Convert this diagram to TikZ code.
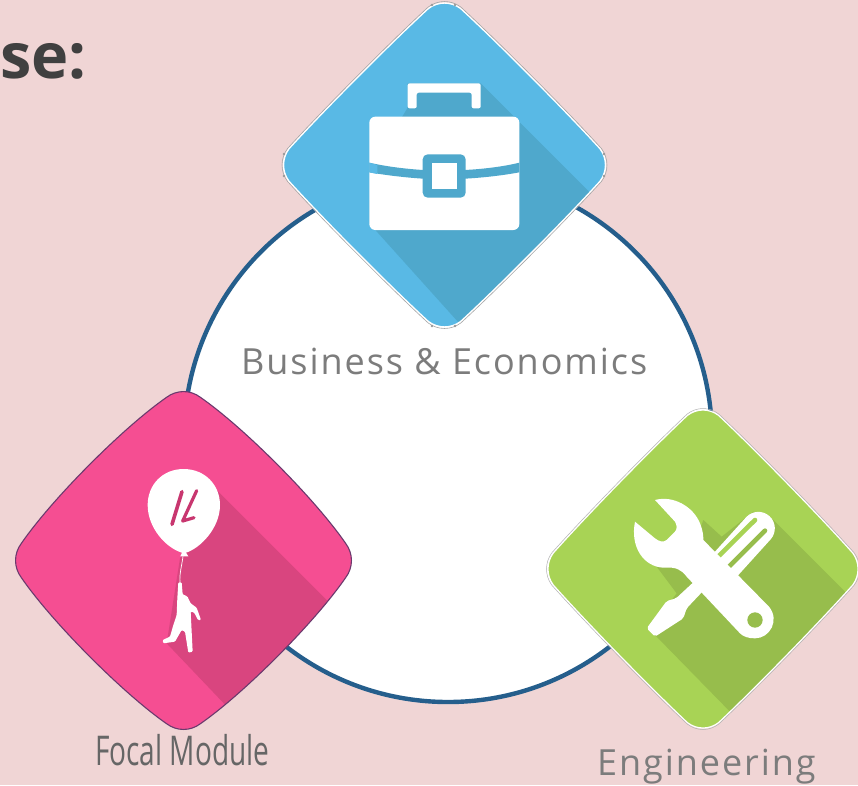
\documentclass[tikz,border=0pt]{standalone}
\usepackage{fontspec}
\setmainfont{Open Sans}
\newfontfamily\lightf[LetterSpace=5.4]{Open Sans}
\definecolor{bg}{HTML}{F0D5D5}
\definecolor{ring}{HTML}{255E8C}
\definecolor{blueA}{HTML}{59B9E5}
\definecolor{blueB}{HTML}{4FA8CC}
\definecolor{pinkA}{HTML}{F54E92}
\definecolor{pinkB}{HTML}{D9457F}
\definecolor{pinkC}{HTML}{C8366F}
\definecolor{pinkE}{HTML}{6B3A6E}
\definecolor{greenA}{HTML}{A8D355}
\definecolor{greenB}{HTML}{97BD4C}
\definecolor{txt}{HTML}{7C7C7C}
\newcommand\dpath{(-\ea,-\eb) .. controls (-\ka,-\kb) and (\ka,-\kb) .. (\ea,-\eb)
 .. controls (\ca,-\cb) and (\cb,-\ca) .. (\eb,-\ea)
 .. controls (\kb,-\ka) and (\kb,\ka) .. (\eb,\ea)
 .. controls (\cb,\ca) and (\ca,\cb) .. (\ea,\eb)
 .. controls (\ka,\kb) and (-\ka,\kb) .. (-\ea,\eb)
 .. controls (-\ca,\cb) and (-\cb,\ca) .. (-\eb,\ea)
 .. controls (-\kb,\ka) and (-\kb,-\ka) .. (-\eb,-\ea)
 .. controls (-\cb,-\ca) and (-\ca,-\cb) .. (-\ea,-\eb) -- cycle}
\newcommand\softshape{\def\ea{10}\def\eb{96}\def\ka{4}\def\kb{100.5}\def\ca{33}\def\cb{75}}
\newcommand\fullshape{\def\ea{10}\def\eb{96}\def\ka{4}\def\kb{100.5}\def\ca{36}\def\cb{78}}
\tikzset{
  bluebox/.style={shift={(444.5,165)},xscale=1.62,yscale=1.63},
  pinkbox/.style={shift={(183.5,560.5)},xscale=1.69,yscale=1.70},
  greenbox/.style={shift={(703,569)},xscale=1.56,yscale=1.60},
  zoomA/.style={shift={(280,0)},scale=1/3},
  zoomB/.style={shift={(0,385)},scale=1/3},
  zoomC/.style={shift={(540,400)},scale=1/3},
  handle/.style={fill=gray!80,draw=none},
  label/.style={inner sep=0pt,anchor=base west,text=txt}
}
\begin{document}
\begin{tikzpicture}[x=1pt,y=-1pt]
\useasboundingbox (0,0) rectangle (858,785);
\fill[bg] (0,0) rectangle (858,785);
\node[inner sep=0pt,anchor=base west,text=black!75,font=\fontsize{63}{63}\selectfont\bfseries] (title) at (0,78) {se:};
\draw[ring,line width=4.4pt,fill=white] (448,438) circle (264);

% blue
\softshape
\fill[blueA,bluebox] \dpath;
\begin{scope}
\clip[bluebox] \dpath;
\fill[blueB,zoomA] (383,250) -- (602,250) -- (1100,748) -- (700,1150) -- (268,670) -- (268,515) -- (383,323) -- cycle;
\end{scope}
\draw[white,line width=1.4pt,bluebox] \dpath;
\draw[gray!70,line width=.6pt,shift={(444.5,165)},xscale=1.635,yscale=1.645] \dpath;
\foreach \hx/\hy in {432/5,455/5,432/326,455/326,284/154,284/176,604/154,604/176}
  \fill[handle] (\hx,\hy) circle (1.3);
\begin{scope}[zoomA]
\fill[blueA] (268,400) -- (268,600) -- (380,600) -- (268,490) -- cycle;
\fill[white,rounded corners=2pt] (383,325) -- (383,250) -- (602,250) -- (602,325) -- (575,325) -- (575,278) -- (410,278) -- (410,325) -- cycle;
\fill[white,rounded corners=6pt] (268,350) rectangle (718,690);
\fill[blueB] (268,488) .. controls (320,500) and (380,507) .. (430,510) -- (555,510) .. controls (610,507) and (670,500) .. (718,488)
  -- (718,517) .. controls (670,526) and (610,533) .. (555,536) -- (430,536) .. controls (380,533) and (320,526) .. (268,517) -- cycle;
\fill[blueA] (268,488) -- (292,495) -- (292,522) -- (268,517) -- cycle;
\fill[blueB,rounded corners=5pt] (428,463) rectangle (557,593);
\fill[white] (455,490) rectangle (530,566);
\end{scope}

% pink
\fullshape
\fill[pinkA,pinkbox] \dpath;
\begin{scope}
\clip[pinkbox] \dpath;
\fill[pinkB,zoomB] (650,315) -- (1150,815) -- (800,1090) -- (500,775) -- (540,520) -- cycle;
\end{scope}
\draw[pinkE,line width=1.1pt,pinkbox] \dpath;
\begin{scope}[zoomB]
\fill[white] (551,252) .. controls (615,252) and (660,300) .. (660,360)
  .. controls (660,430) and (600,490) .. (558,503) -- (565,514) -- (541,514) -- (546,503)
  .. controls (500,490) and (443,430) .. (443,360) .. controls (443,300) and (487,252) .. (551,252) -- cycle;
\draw[white,line width=.7pt] (549,514) .. controls (545,545) and (538,565) .. (540,592);
\fill[white,rounded corners=1pt] (535,592) -- (545,592) -- (548,628) -- (562,634) -- (572,655) -- (590,668) -- (603,705) -- (594,705) -- (582,682) -- (572,680) -- (575,740) -- (578,800) -- (565,803) -- (555,740) -- (545,735) -- (525,770) -- (490,775) -- (488,765) -- (510,755) -- (520,720) -- (530,690) -- (532,640) -- cycle;
\draw[pinkC,line width=3.6pt,line cap=round] (546,320) -- (516,418);
\draw[pinkC,line width=3.2pt,line cap=round,line join=round] (590,317) -- (548,408) -- (582,398);
\end{scope}

% green
\softshape
\fill[greenA,greenbox] \dpath;
\begin{scope}
\clip[greenbox] \dpath;
\fill[greenB,zoomC] (700,360) -- (1150,810) -- (800,1170) -- (345,705) -- (395,600) -- (410,580) -- (350,500) -- (440,500) -- (490,360) -- (545,410) -- (640,335) -- cycle;
\end{scope}
\draw[white,line width=1.2pt,greenbox] \dpath;
\draw[gray!60,line width=.5pt,shift={(703,569)},xscale=1.575,yscale=1.615] \dpath;
\begin{scope}[zoomC]
% screwdriver
\draw[white,line width=33pt,line cap=round] (655,385) -- (560,490);
\fill[white,rounded corners=2pt] (462,545) -- (490,572) -- (440,625) -- (430,655) -- (345,710) -- (320,685) -- (380,603) -- (408,595) -- cycle;
\draw[greenA,line width=4.6pt,line cap=round] (512,492) -- (645,360);
\draw[greenB,line width=4.6pt,line cap=round] (542,525) -- (675,392);
% wrench
\fill[white] (345,300) .. controls (400,285) and (460,320) .. (480,370) .. controls (490,395) and (490,410) .. (490,420)
  -- (687,620) .. controls (720,660) and (690,715) .. (645,715) .. controls (625,715) and (610,710) .. (600,700)
  -- (440,530) .. controls (425,510) and (410,500) .. (370,503) .. controls (310,500) and (270,440) .. (285,365)
  -- (345,415) .. controls (358,425) and (370,428) .. (380,420) -- (405,395) .. controls (413,385) and (410,375) .. (405,365) -- cycle;
\fill[greenB] (645,660) circle (23);
\end{scope}

% labels
\node[label,font=\lightf\fontsize{36}{36}\selectfont] (business) at (241,374) {Business \& Economics};
\node[label,text=black!60,font=\fontsize{41}{41}\selectfont] (focal) at (95,765) {\scalebox{.684}[1]{Focal Module}};
\node[label,font=\lightf\fontsize{36}{36}\selectfont] (engineering) at (597,775) {Engineering};
\end{tikzpicture}
\end{document}
